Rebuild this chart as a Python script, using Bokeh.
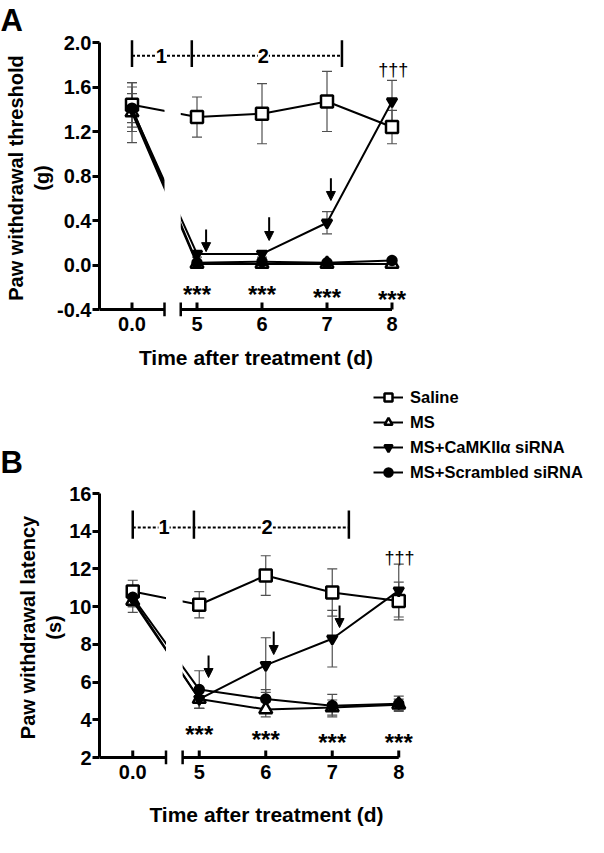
from bokeh.plotting import figure
from bokeh.models import (FixedTicker, PrintfTickFormatter, Whisker, TeeHead, ColumnDataSource,
                          Arrow, NormalHead, Label, Legend, LegendItem, Range1d)
from bokeh.layouts import column
from bokeh.embed import file_html
from bokeh.resources import INLINE

FONT = "Liberation Sans"
EB = "#505050"

# ---------------- data ----------------
x_pos = [4, 5, 6, 7, 8]
x_labels = ["0.0", "5", "6", "7", "8"]
series_names = ["Saline", "MS", "MS+CaMKII\u03b1 siRNA", "MS+Scrambled siRNA"]

a_saline = [1.44, 1.33, 1.36, 1.47, 1.24]
a_saline_err = [0.20, 0.18, 0.27, 0.27, 0.15]
a_ms = [1.37, 0.01, 0.01, 0.01, 0.01]
a_ms_err = [0.27, 0.02, 0.02, 0.02, 0.02]
a_sirna = [1.40, 0.10, 0.10, 0.38, 1.47]
a_sirna_err = [0.20, 0.03, 0.03, 0.10, 0.19]
a_scr = [1.41, 0.02, 0.03, 0.02, 0.04]
a_scr_err = [0.13, 0.02, 0.02, 0.01, 0.01]

b_saline = [10.8, 10.1, 11.65, 10.75, 10.3]
b_saline_err = [0.6, 0.7, 1.05, 1.25, 1.0]
b_ms = [10.3, 5.1, 4.55, 4.65, 4.8]
b_ms_err = [0.6, 0.5, 0.4, 0.4, 0.3]
b_sirna = [10.4, 5.1, 6.9, 8.3, 10.85]
b_sirna_err = [0.4, 0.5, 1.45, 1.5, 1.4]
b_scr = [10.5, 5.6, 5.1, 4.75, 4.85]
b_scr_err = [0.5, 1.0, 0.5, 0.6, 0.4]

a_yticks = [-0.4, 0.0, 0.4, 0.8, 1.2, 1.6, 2.0]
b_yticks = [2, 4, 6, 8, 10, 12, 14, 16]

# annotations (data units)
a_star_x = [5, 6, 7, 8]
a_star_y = [-0.265, -0.265, -0.292, -0.31]
b_star_x = [5, 6, 7, 8]
b_star_y = [3.24, 2.97, 2.77, 2.77]
a_arrows = [(5.14, 0.32, 0.12), (6.11, 0.43, 0.22), (7.06, 0.78, 0.58)]
b_arrows = [(5.14, 7.41, 6.24), (6.12, 8.68, 7.46), (7.11, 10.06, 8.89)]

markers = [("square", 12, "white"), ("triangle", 13, "white"),
           ("inverted_triangle", 10, "black"), ("circle", 9, "black")]

# layout in page pixels: top/bottom are the page rows of y1/y0 of the value axis
PAN_A = dict(fig_top=8, fig_bot=385, left=107, right=420, top=50, bottom=317,
             pad_top=3, pad_bot=7, x0=3.5, ppd=65.0, y0=-0.4, y1=2.0, xlabel_center=254)
PAN_B = dict(fig_top=490, fig_bot=842, left=107, right=441, top=501, bottom=765,
             pad_top=3, pad_bot=7, x0=3.5, ppd=66.5, y0=2.0, y1=16.0, xlabel_center=274)
FIG_W = 588


def make_panel(pan, yticks, yfmt, means, errs, ylabel, bracket, dagger, stars, arrows,
               xlabel_standoff):
    ppu = (pan["bottom"] - pan["top"]) / (pan["y1"] - pan["y0"])
    fw = pan["right"] - pan["left"]
    x1 = pan["x0"] + fw / pan["ppd"]
    ylo = pan["y0"] - pan["pad_bot"] / ppu
    yhi = pan["y1"] + pan["pad_top"] / ppu
    ftop = pan["top"] - pan["pad_top"]
    fbot = pan["bottom"] + pan["pad_bot"]
    p = figure(frame_width=fw, frame_height=fbot - ftop, x_range=Range1d(pan["x0"], x1),
               y_range=Range1d(ylo, yhi), output_backend="svg",
               toolbar_location=None,
               min_border_left=pan["left"] - 8, min_border_right=8 + FIG_W - pan["right"],
               min_border_top=ftop - pan["fig_top"],
               min_border_bottom=pan["fig_bot"] - fbot)
    p.frame_align = False
    p.outline_line_color = None
    p.xgrid.visible = False
    p.ygrid.visible = False
    p.background_fill_color = "white"
    p.border_fill_color = "white"

    # x axis: labels from Bokeh, the broken line drawn below
    xa = p.xaxis[0]
    xa.ticker = FixedTicker(ticks=x_pos)
    xa.major_label_overrides = dict(zip(x_pos, x_labels))
    xc = pan["x0"] + (pan["xlabel_center"] - pan["left"]) / pan["ppd"]
    xa.bounds = (pan["x0"], 2 * xc - pan["x0"])
    xa.axis_line_color = None
    xa.major_tick_line_color = None
    xa.minor_tick_line_color = None
    xa.major_tick_in = 0
    xa.major_tick_out = 0
    xa.major_label_text_font = FONT
    xa.major_label_text_font_style = "bold"
    xa.major_label_text_font_size = "20px"
    xa.major_label_text_color = "black"
    xa.major_label_standoff = 0
    xa.axis_label = "Time after treatment (d)"
    xa.axis_label_text_font = FONT
    xa.axis_label_text_font_style = "bold"
    xa.axis_label_text_font_size = "21px"
    xa.axis_label_text_color = "black"
    xa.axis_label_standoff = xlabel_standoff

    ya = p.yaxis[0]
    ya.ticker = FixedTicker(ticks=yticks)
    ya.formatter = PrintfTickFormatter(format=yfmt)
    ya.bounds = (pan["y0"], pan["y1"])
    ya.axis_line_width = 3
    ya.axis_line_color = "black"
    ya.major_tick_line_width = 3
    ya.major_tick_line_color = "black"
    ya.major_tick_in = 0
    ya.major_tick_out = 7
    ya.minor_tick_line_color = None
    ya.major_label_text_font = FONT
    ya.major_label_text_font_style = "bold"
    ya.major_label_text_font_size = "20px"
    ya.major_label_text_color = "black"
    ya.major_label_standoff = 1
    ya.axis_label = ylabel
    ya.axis_label_text_font = FONT
    ya.axis_label_text_font_style = "bold"
    ya.axis_label_text_font_size = "20px"
    ya.axis_label_text_color = "black"
    ya.axis_label_standoff = 1

    items = []
    for name, m, e, (mk, sz, fc) in zip(series_names, means, errs, markers):
        src = ColumnDataSource(dict(x=x_pos, y=m,
                                    upper=[a + b for a, b in zip(m, e)],
                                    lower=[a - b for a, b in zip(m, e)]))
        p.add_layout(Whisker(source=src, base="x", upper="upper", lower="lower",
                             line_color=EB, line_width=1.2,
                             upper_head=TeeHead(size=10, line_color=EB, line_width=1.2),
                             lower_head=TeeHead(size=10, line_color=EB, line_width=1.2)))
        lr = p.line("x", "y", source=src, line_color="black", line_width=2)
        sr = p.scatter("x", "y", source=src, marker=mk, size=sz, fill_color=fc,
                       line_color="black", line_width=2.5)
        items.append(LegendItem(label=name, renderers=[lr, sr]))

    # axis break: white mask over the data lines
    p.quad(left=[4.5], right=[4.75], bottom=[pan["y0"]], top=[yhi],
           fill_color="white", line_color=None)

    # broken x axis line, inward ticks, break marks
    t7 = 7 / ppu
    p.segment(x0=[pan["x0"], 4.75], x1=[4.5, 8.0], y0=[pan["y0"]] * 2, y1=[pan["y0"]] * 2,
              line_color="black", line_width=3)
    p.segment(x0=x_pos, x1=x_pos, y0=[pan["y0"]] * len(x_pos),
              y1=[pan["y0"] + t7] * len(x_pos), line_color="black", line_width=3)
    p.segment(x0=[4.5, 4.75], x1=[4.5, 4.75], y0=[pan["y0"] - t7] * 2,
              y1=[pan["y0"] + t7] * 2, line_color="black", line_width=2.5)

    # bracket
    by, b_lo, b_hi, bars, t1x, t2x = bracket
    p.segment(x0=[bars[0]], x1=[bars[-1]], y0=[by], y1=[by], line_color="black",
              line_width=2, line_dash="3 2")
    p.segment(x0=bars, x1=bars, y0=[b_lo] * len(bars), y1=[b_hi] * len(bars),
              line_color="black", line_width=2.5)
    for tx, tt in ((t1x, "1"), (t2x, "2")):
        p.add_layout(Label(x=tx, y=by, text=tt, text_align="center", text_baseline="middle",
                           text_font=FONT, text_font_style="bold", text_font_size="20px",
                           text_color="black", background_fill_color="white"))

    # stars
    for sx, sy in zip(*stars):
        p.add_layout(Label(x=sx, y=sy, text="***", text_align="center", text_baseline="middle",
                           text_font=FONT, text_font_style="bold", text_font_size="24px",
                           text_color="black"))
    # daggers
    p.add_layout(Label(x=dagger[0], y=dagger[1], text="\u2020\u2020\u2020", text_align="center",
                       text_baseline="middle", text_font=FONT, text_font_size="18px",
                       text_color="black"))
    # arrows
    for ax_, ys, ye in arrows:
        p.add_layout(Arrow(end=NormalHead(size=9, fill_color="black", line_color="black"),
                           x_start=ax_, x_end=ax_, y_start=ys, y_end=ye,
                           line_color="black", line_width=2))
    return p, items


pA, itemsA = make_panel(
    PAN_A, a_yticks, "%.1f",
    [a_saline, a_ms, a_sirna, a_scr], [a_saline_err, a_ms_err, a_sirna_err, a_scr_err],
    "Paw withdrawal threshold\n(g)",
    (1.88, 1.78, 2.02, [4.0, 4.92, 7.23], 4.45, 6.02),
    (8.02, 1.755), (a_star_x, a_star_y), a_arrows, 12)

pB, itemsB = make_panel(
    PAN_B, b_yticks, "%d",
    [b_saline, b_ms, b_sirna, b_scr], [b_saline_err, b_ms_err, b_sirna_err, b_scr_err],
    "Paw withdrawal latency\n(s)",
    (14.2, 13.6, 15.1, [4.0, 4.92, 7.25], 4.47, 6.02),
    (8.01, 12.6), (b_star_x, b_star_y), b_arrows, 21)

# panel letter A as the title of panel A
pA.title.text = "A"
pA.title.text_font = FONT
pA.title.text_font_style = "bold"
pA.title.text_font_size = "31px"
pA.title.text_color = "black"
pA.title.align = "left"
pA.title.offset = -(PAN_A["left"] - 8)
pA.title.standoff = 0
pA.title.vertical_align = "top"

# middle strip: letter B and the legend
MID_H = PAN_B["fig_top"] - PAN_A["fig_bot"]
pm = figure(frame_width=FIG_W, frame_height=MID_H, x_range=Range1d(0, FIG_W),
            y_range=Range1d(0, MID_H), x_axis_type=None, y_axis_type=None,
            output_backend="svg", toolbar_location=None,
            min_border_left=0, min_border_right=0, min_border_top=0, min_border_bottom=0)
pm.frame_align = False
pm.outline_line_color = None
pm.xgrid.visible = False
pm.ygrid.visible = False
nan = float("nan")
leg_items = []
for name, (mk, sz, fc) in zip(series_names, markers):
    lr = pm.line(x=[nan], y=[nan], line_color="black", line_width=2)
    sr = pm.scatter(x=[nan], y=[nan], marker=mk, size=sz, fill_color=fc, line_color="black",
                    line_width=2.5)
    leg_items.append(LegendItem(label=name, renderers=[lr, sr]))
legend = Legend(items=leg_items, location=(373, 0),
                orientation="vertical", glyph_width=30, glyph_height=20, label_height=20,
                label_standoff=7, spacing=5, padding=0, margin=0, border_line_color=None,
                background_fill_alpha=0, label_text_font=FONT, label_text_font_style="bold",
                label_text_font_size="16.5px", label_text_color="black")
pm.add_layout(legend)
pm.add_layout(Label(x=0, y=PAN_B["fig_top"] - 452, text="B", text_align="left",
                    text_baseline="top", text_font=FONT, text_font_style="bold",
                    text_font_size="31px", text_color="black"))

layout = column(pA, pm, pB)
open("out.html", "w").write(file_html(layout, INLINE))
